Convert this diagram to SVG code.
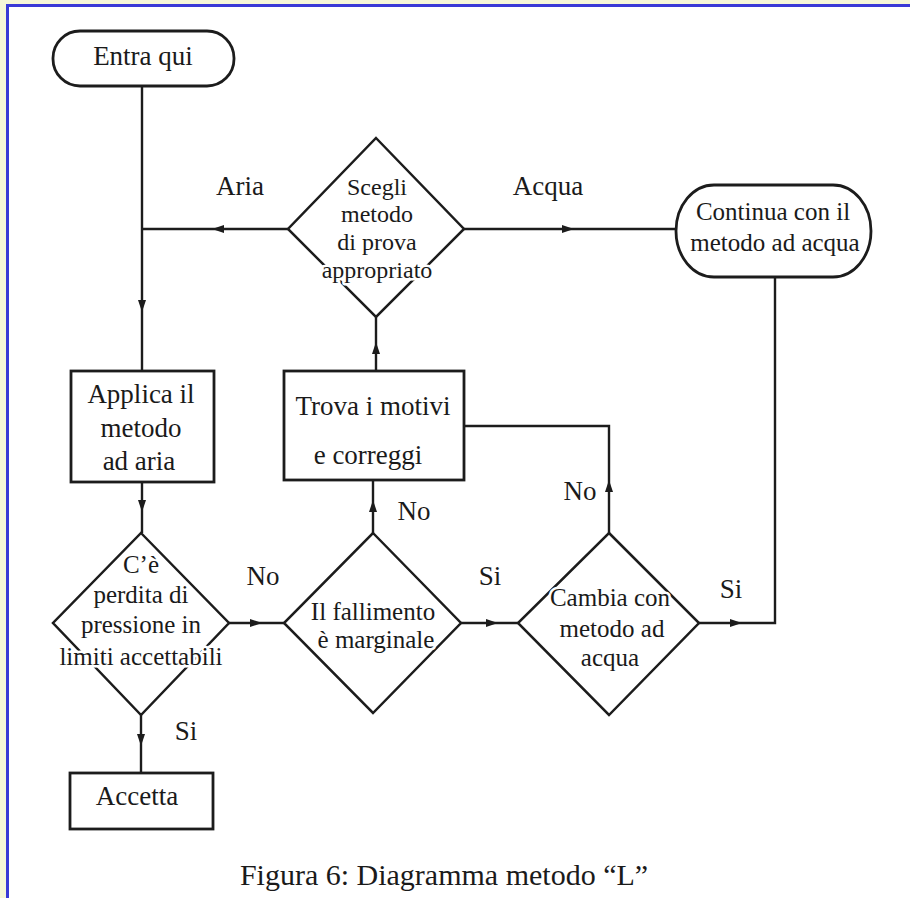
<svg xmlns="http://www.w3.org/2000/svg" xmlns:xlink="http://www.w3.org/1999/xlink" width="910" height="898" viewBox="0 0 910 898">
<style>
.shape{fill:none;stroke:#1c1c1c;stroke-width:2.5;stroke-linejoin:miter}
.box{fill:#fff;stroke:#1c1c1c;stroke-width:2.8}
.line{fill:none;stroke:#1c1c1c;stroke-width:2.4}
.t{font-family:"Liberation Serif","Times New Roman",serif;font-size:27px;fill:#1a1a1a;text-anchor:middle}
.s{font-size:24px}
.m{font-size:25px}
.h{stroke:#fff;stroke-width:5;paint-order:stroke;stroke-linejoin:round}
.cap{font-family:"Liberation Serif","Times New Roman",serif;font-size:30px;fill:#1a1a1a;text-anchor:middle}
</style>
<defs>
<path id="ah" d="M0,0 L-12,-4 L-12,4 Z" fill="#1c1c1c"/>
</defs>
<rect x="0" y="0" width="910" height="898" fill="#f6f7d8"/>
<rect x="6" y="4" width="904" height="894" fill="#fff"/>
<line x1="6" y1="5.5" x2="910" y2="5.5" stroke="#3a3ad6" stroke-width="3"/>
<line x1="7.5" y1="4" x2="7.5" y2="898" stroke="#3a3ad6" stroke-width="3"/>

<g id="connectors">
<path class="line" d="M142,86 V371"/>
<use xlink:href="#ah" transform="translate(142,312) rotate(90)"/>
<path class="line" d="M288,229 H142"/>
<use xlink:href="#ah" transform="translate(212,229) rotate(180)"/>
<path class="line" d="M464,229 H676"/>
<use xlink:href="#ah" transform="translate(574,229)"/>
<path class="line" d="M376,371 V317"/>
<use xlink:href="#ah" transform="translate(376,342) rotate(-90)"/>
<path class="line" d="M609,533 V426 H464"/>
<use xlink:href="#ah" transform="translate(609,480) rotate(-90)"/>
<path class="line" d="M373,533 V480"/>
<use xlink:href="#ah" transform="translate(373,500) rotate(-90)"/>
<path class="line" d="M142,482 V533"/>
<use xlink:href="#ah" transform="translate(142,512) rotate(90)"/>
<path class="line" d="M229,623 H284"/>
<use xlink:href="#ah" transform="translate(262,623)"/>
<path class="line" d="M461,623 H518"/>
<use xlink:href="#ah" transform="translate(498,623)"/>
<path class="line" d="M699,623 H775 V277"/>
<use xlink:href="#ah" transform="translate(742,623)"/>
<path class="line" d="M141,715 V773"/>
<use xlink:href="#ah" transform="translate(141,746) rotate(90)"/>
<text class="t" x="240" y="195">Aria</text>
<text class="t" x="548" y="195">Acqua</text>
<text class="t" x="580" y="500">No</text>
<text class="t" x="414" y="520">No</text>
<text class="t" x="263" y="585">No</text>
<text class="t" x="490" y="585">Si</text>
<text class="t" x="731" y="598">Si</text>
<text class="t" x="186" y="740">Si</text>
</g>

<g id="entra">
<rect class="box" x="53" y="31" width="181" height="55" rx="27" ry="27"/>
<text class="t" x="143" y="65">Entra qui</text>
</g>

<g id="scegli">
<path class="shape" d="M376,138 L464,229 L376,317 L288,229 Z"/>
<text class="t s h" x="377" y="195">Scegli</text>
<text class="t s h" x="377" y="222">metodo</text>
<text class="t s h" x="377" y="250">di prova</text>
<text class="t s h" x="377" y="278">appropriato</text>
</g>

<g id="continua">
<rect class="box" x="676" y="185" width="195" height="92" rx="38" ry="46"/>
<text class="t m h" x="773" y="220">Continua con il</text>
<text class="t m h" x="775" y="251">metodo ad acqua</text>
</g>

<g id="applica">
<rect class="box" x="71" y="371" width="143" height="111"/>
<text class="t" x="141" y="403">Applica il</text>
<text class="t" x="141" y="437">metodo</text>
<text class="t" x="139" y="470">ad aria</text>
</g>

<g id="trova">
<rect class="box" x="284" y="371" width="180" height="109"/>
<text class="t" x="373" y="415">Trova i motivi</text>
<text class="t" x="368" y="464">e correggi</text>
</g>

<g id="perdita">
<path class="shape" d="M141,533 L229,623 L141,715 L53,623 Z"/>
<text class="t m h" x="141" y="573">C’è</text>
<text class="t m h" x="141" y="603">perdita di</text>
<text class="t m h" x="141" y="633">pressione in</text>
<text class="t m h" x="141" y="665">limiti accettabili</text>
</g>

<g id="fallimento">
<path class="shape" d="M373,533 L461,623 L373,713 L284,623 Z"/>
<text class="t m h" x="373" y="620">Il fallimento</text>
<text class="t m h" x="376" y="648">è marginale</text>
</g>

<g id="cambia">
<path class="shape" d="M609,533 L699,623 L609,715 L518,623 Z"/>
<text class="t m h" x="610" y="606">Cambia con</text>
<text class="t m h" x="612" y="637">metodo ad</text>
<text class="t m h" x="610" y="666">acqua</text>
</g>

<g id="accetta">
<rect class="box" x="70" y="773" width="143" height="56"/>
<text class="t" x="137" y="805">Accetta</text>
</g>

<text class="cap" x="444" y="885">Figura 6: Diagramma metodo “L”</text>
</svg>
